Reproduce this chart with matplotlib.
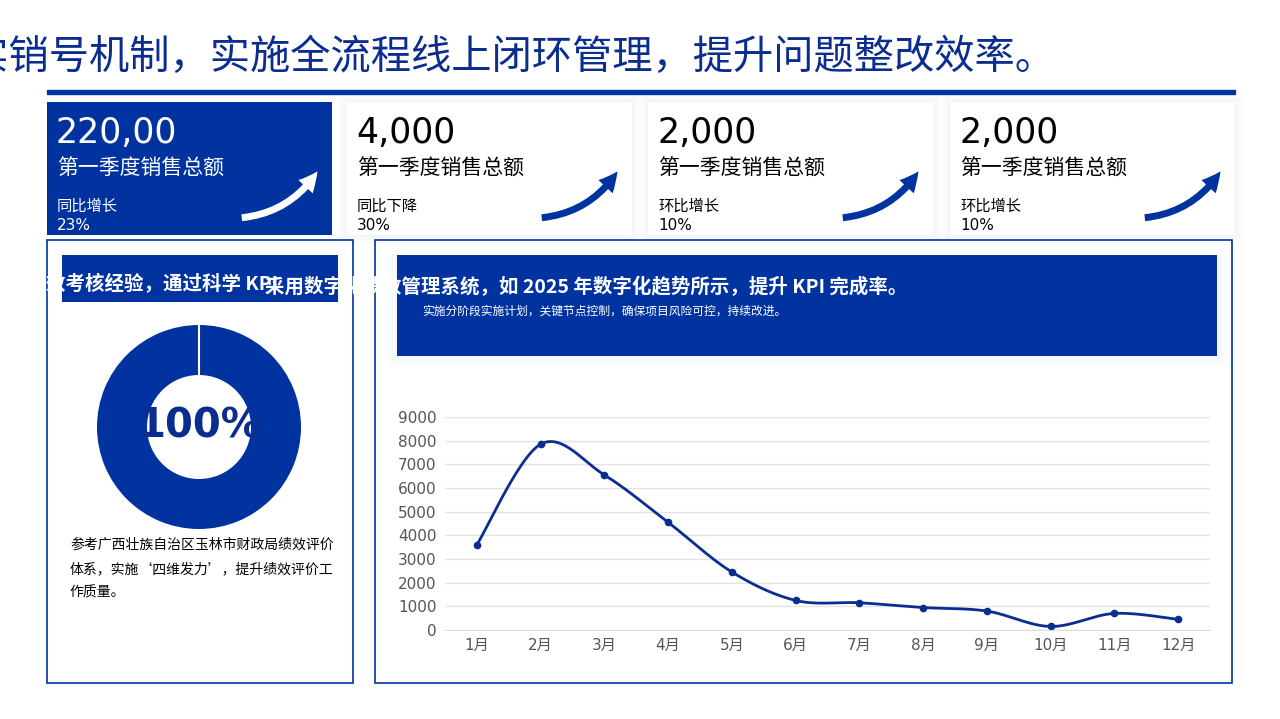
import numpy as np
import matplotlib.pyplot as plt
from matplotlib.patches import Rectangle, FancyArrowPatch, Wedge

plt.rcParams['font.family'] = ['Noto Sans CJK SC', 'DejaVu Sans']

BLUE = '#0033a0'
DARK = '#0b2d8f'
NUM = ['DejaVu Sans', 'Noto Sans CJK SC']

months = ['1月', '2月', '3月', '4月', '5月', '6月', '7月', '8月', '9月', '10月', '11月', '12月']
sales = [3600, 7850, 6550, 4550, 2450, 1250, 1150, 950, 800, 150, 700, 450]

card_values = ['220,00', '4,000', '2,000', '2,000']
card_labels = ['第一季度销售总额'] * 4
card_trends = ['同比增长', '同比下降', '环比增长', '环比增长']
card_pcts = ['23%', '30%', '10%', '10%']

W, H = 1280, 719
fig = plt.figure(figsize=(12.8, 7.19), dpi=100)
bg = fig.add_axes([0, 0, 1, 1])
bg.set_xlim(0, W)
bg.set_ylim(H, 0)
bg.axis('off')

bg.text(-72, 57, '落实销号机制，实施全流程线上闭环管理，提升问题整改效率。', fontsize=29,
        color=DARK, va='center', ha='left', fontweight='medium')
bg.add_patch(Rectangle((47, 90), 1188, 4, color=BLUE))

# cards
card_x = [47, 347, 648, 950]
for i, x0 in enumerate(card_x):
    filled = i == 0
    if not filled:
        for k, a in enumerate([0.03, 0.03, 0.04]):
            d = 8 - 3 * k
            bg.add_patch(Rectangle((x0 - d, 102 - d), 285 + 2 * d, 133 + 2 * d,
                                   color='#8fa0c8', alpha=a, lw=0))
    bg.add_patch(Rectangle((x0, 102), 285, 133, color=BLUE if filled else 'white', lw=0))
    fc = 'white' if filled else 'black'
    bg.text(x0 + 9, 133, card_values[i], fontsize=25, color=fc, va='center', family=NUM)
    bg.text(x0 + 10, 169, card_labels[i], fontsize=15, color=fc, va='center')
    bg.text(x0 + 10, 206, card_trends[i], fontsize=11, color=fc, va='center')
    bg.text(x0 + 10, 225, card_pcts[i], fontsize=11, color=fc, va='center', family=NUM)
    bg.add_patch(FancyArrowPatch((x0 + 192, 218), (x0 + 272, 169),
                                 connectionstyle='arc3,rad=0.25',
                                 arrowstyle='simple,head_width=14,head_length=14,tail_width=5',
                                 color='white' if filled else BLUE, lw=0))

# left panel
bg.add_patch(Rectangle((47, 240), 306, 443, fill=False, ec=BLUE, lw=1.2))
bg.add_patch(Rectangle((62, 255), 276, 47, color=BLUE, lw=0))
bg.text(46, 284, '效考核经验，通过科学 KPI', fontsize=14, color='white', fontweight='bold', va='center')
bg.add_patch(Wedge((199, 427), 102, 0, 360, width=50, color=BLUE, lw=0))
bg.plot([199, 199], [325, 377], color='white', lw=1.5)
bg.text(199, 427, '100%', fontsize=29, color=DARK, fontweight='bold', ha='center', va='center',
        family=NUM)
for j, line in enumerate(['参考广西壮族自治区玉林市财政局绩效评价', '体系，实施‘四维发力’，提升绩效评价工', '作质量。']):
    bg.text(70, 545 + j * 24, line, fontsize=10, color='black', va='center')

# right panel
bg.add_patch(Rectangle((375, 240), 857, 443, fill=False, ec=BLUE, lw=1.2))
for k, a in enumerate([0.03, 0.04]):
    d = 10 - 4 * k
    bg.add_patch(Rectangle((397 - d, 255), 820 + 2 * d, 101 + d, color='#8fa0c8', alpha=a, lw=0))
bg.add_patch(Rectangle((397, 255), 820, 101, color=BLUE, lw=0))
bg.text(265, 287, '采用数字化绩效管理系统，如 2025 年数字化趋势所示，提升 KPI 完成率。', fontsize=14,
        color='white', fontweight='bold', va='center')
bg.text(422, 311, '实施分阶段实施计划，关键节点控制，确保项目风险可控，持续改进。', fontsize=8.5,
        color='white', va='center')

# line chart
ax = fig.add_axes([445 / W, (H - 630) / H, (1210 - 445) / W, (630 - 417) / H])
x = np.arange(1, 13)
y = np.array(sales, dtype=float)
# catmull-rom smoothing for the drawn curve
xs, ys = [], []
P = np.column_stack([x, y])
P = np.vstack([P[0], P, P[-1]])
for i in range(1, len(P) - 2):
    p0, p1, p2, p3 = P[i - 1], P[i], P[i + 1], P[i + 2]
    t = np.linspace(0, 1, 30)[:, None]
    seg = 0.5 * ((2 * p1) + (-p0 + p2) * t + (2 * p0 - 5 * p1 + 4 * p2 - p3) * t ** 2
                 + (-p0 + 3 * p1 - 3 * p2 + p3) * t ** 3)
    xs.extend(seg[:, 0]); ys.extend(seg[:, 1])
ax.plot(xs, ys, color=DARK, lw=2)
ax.plot(x, y, 'o', color=DARK, ms=4.5)
ax.set_xlim(0.5, 12.5)
ax.set_ylim(0, 9000)
ax.set_yticks(range(0, 9001, 1000))
ax.set_xticks(x)
ax.set_xticklabels(months)
for lab in ax.get_xticklabels() + ax.get_yticklabels():
    lab.set_family(NUM)
ax.grid(axis='y', color='#e3e3e3', lw=1)
ax.set_axisbelow(True)
for s in ['top', 'right', 'left']:
    ax.spines[s].set_visible(False)
ax.spines['bottom'].set_color('#dddddd')
ax.tick_params(length=0, labelsize=11, colors='#555555', pad=6)
ax.patch.set_alpha(0)

fig.savefig('out.png', dpi=100)
